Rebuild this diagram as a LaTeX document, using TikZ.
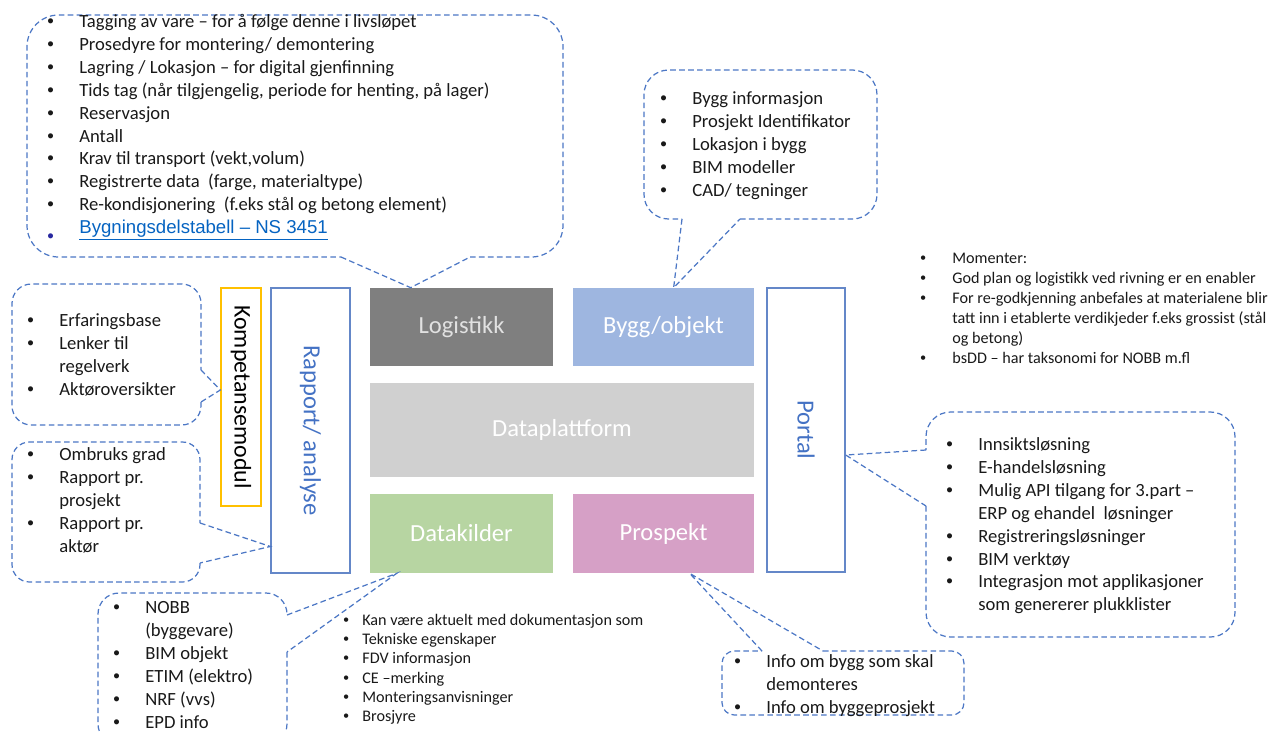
\documentclass[tikz,border=0pt]{standalone}
\usepackage{fontspec}
\setmainfont{Carlito}
\newfontfamily\arialfont{Liberation Sans}
\usepackage{xcolor}
\definecolor{dashblue}{RGB}{76,119,197}
\definecolor{frameblue}{RGB}{100,135,200}
\definecolor{labelblue}{RGB}{68,114,196}
\definecolor{kompyellow}{RGB}{255,192,0}
\definecolor{logigray}{RGB}{127,127,127}
\definecolor{logitext}{RGB}{225,225,225}
\definecolor{byggblue}{RGB}{158,182,224}
\definecolor{datagray}{RGB}{208,208,208}
\definecolor{kildegreen}{RGB}{183,213,162}
\definecolor{prosppink}{RGB}{214,160,198}
\definecolor{linkblue}{RGB}{5,99,193}
\definecolor{linkdot}{RGB}{40,40,160}
\definecolor{bodytext}{RGB}{25,25,25}
\newcommand{\bu}{{\arialfont\textbullet}}
\newcommand{\blist}[2]{\begin{tabular}{@{}p{#1}@{}l@{}}#2\end{tabular}}

\begin{document}
\begin{tikzpicture}[x=0.02cm, y=-0.02cm,
  bubble/.style={draw=dashblue, line width=0.7pt, dash pattern=on 3.2pt off 1.9pt, rounded corners=14pt},
  block/.style={inner sep=0pt, font=\fontsize{14}{16}\selectfont},
  sidebox/.style={draw=frameblue, line width=0.8pt, fill=white, inner sep=0pt, font=\fontsize{14}{16}\selectfont},
  bullets/.style={anchor=north west, inner sep=0pt, text=bodytext, font=\fontsize{10.6}{13}\selectfont},
  notes/.style={anchor=north west, inner sep=0pt, text=bodytext, font=\fontsize{9.2}{11.2}\selectfont}]
\useasboundingbox (0,0) rectangle (1271,731);

% platform blocks
\foreach \n/\x/\y/\w/\h/\c/\f/\t in {
    logi/461.5/327/3.66/1.56/logigray/logitext/Logistikk,
    bygg/663.5/327/3.62/1.56/byggblue/white/{Bygg/objekt},
    data/562/430/7.68/1.88/datagray/white/Dataplattform,
    kilder/461.5/533.5/3.66/1.58/kildegreen/white/Datakilder,
    prosp/663.5/533.5/3.62/1.58/prosppink/white/Prospekt} {
  \node[block, fill=\c, text=\f, minimum width=\w cm, minimum height=\h cm] (\n) at (\x,\y) {\t};
}
\node[sidebox, minimum width=1.56cm, minimum height=5.68cm, text=labelblue] (portal) at (806,430) {\rotatebox{-90}{Portal}};
\node[sidebox, minimum width=1.58cm, minimum height=5.7cm, text=labelblue] (rapport) at (310.5,430.5) {\rotatebox{-90}{Rapport/ analyse}};
\node[sidebox, draw=kompyellow, minimum width=0.8cm, minimum height=4.36cm, text=black, font=\fontsize{13.6}{16}\selectfont] (komp) at (241,397) {\rotatebox{-90}{Kompetansemodul}};

% pointer tips
\coordinate (tipLogi) at ([xshift=0.82cm]logi.north west);
\coordinate (tipBygg) at ([xshift=2.02cm]bygg.north west);
\coordinate (tipKomp) at ([yshift=0.14cm]komp.west);
\coordinate (tipRapp) at ([yshift=-2.32cm]rapport.west);
\coordinate (tipKild) at ([xshift=0.54cm]kilder.south west);
\coordinate (tipProsp) at ([xshift=2.34cm]prosp.south west);
\coordinate (tipPort) at ([yshift=-0.5cm]portal.east);

% callouts
\draw[bubble, rounded corners=18pt] (470,257) -- (563,257) -- (563,15) -- (27,15) -- (27,257) -- (341,257);
\draw[bubble, sharp corners] (341,257) -- (tipLogi) -- (470,257);
\draw[bubble] (740,219) -- (877,219) -- (877,70) -- (644,70) -- (644,219) -- (682,219);
\draw[bubble, sharp corners] (682,219) -- (tipBygg) -- (740,219);
\draw[bubble, rounded corners=11pt] (201,402) -- (201,425) -- (12,425) -- (12,284) -- (201,284) -- (201,370);
\draw[bubble, sharp corners] (201,370) -- (tipKomp) -- (201,402);
\draw[bubble, rounded corners=10pt] (200,563) -- (200,582) -- (12,582) -- (12,442) -- (200,442) -- (200,523);
\draw[bubble, sharp corners] (200,523) -- (tipRapp) -- (200,563);
\draw[bubble, rounded corners=12pt] (287,652) -- (287,745) -- (98,745) -- (98,593) -- (287,593) -- (287,615);
\draw[bubble, sharp corners] (287,615) -- (tipKild) -- (287,652);
\draw[bubble, rounded corners=7pt] (823,651) -- (964,651) -- (964,715) -- (722,715) -- (722,651) -- (762,651);
\draw[bubble, sharp corners] (762,651) -- (tipProsp) -- (823,651);
\draw[bubble] (926,506) -- (926,637) -- (1235,637) -- (1235,412) -- (926,412) -- (926,450);
\draw[bubble, sharp corners] (926,450) -- (tipPort) -- (926,506);

% texts
\node[bullets] (logiList) at (47,11.5) {\blist{0.64cm}{
  \bu & Tagging av vare – for å følge denne i livsløpet\\
  \bu & Prosedyre for montering/ demontering\\
  \bu & Lagring / Lokasjon – for digital gjenfinning\\
  \bu & Tids tag (når tilgjengelig, periode for henting, på lager)\\
  \bu & Reservasjon\\
  \bu & Antall\\
  \bu & Krav til transport (vekt,volum)\\
  \bu & Registrerte data~ (farge, materialtype)\\
  \bu & Re-kondisjonering~ (f.eks stål og betong element)\\
  {\color{linkdot}\bu} & {\arialfont\color{linkblue}\underline{Bygningsdelstabell – NS 3451}}}};
\node[bullets] (byggList) at (660,88.5) {\blist{0.64cm}{
  \bu & Bygg informasjon\\
  \bu & Prosjekt Identifikator\\
  \bu & Lokasjon i bygg\\
  \bu & BIM modeller\\
  \bu & CAD/ tegninger}};
\node[notes, font=\fontsize{9.2}{11.4}\selectfont] (noteList) at (920,248.9) {\blist{0.64cm}{
  \bu & Momenter:\\
  \bu & God plan og logistikk ved rivning er en enabler\\
  \bu & For re-godkjenning anbefales at materialene blir\\
   & tatt inn i etablerte verdikjeder f.eks grossist (stål\\
   & og betong)\\
  \bu & bsDD – har taksonomi for NOBB m.fl}};
\node[bullets] (erfList) at (27,310.5) {\blist{0.64cm}{
  \bu & Erfaringsbase\\
  \bu & Lenker til\\
   & regelverk\\
  \bu & Aktøroversikter}};
\node[bullets] (ombList) at (27,444.5) {\blist{0.64cm}{
  \bu & Ombruks grad\\
  \bu & Rapport pr.\\
   & prosjekt\\
  \bu & Rapport pr.\\
   & aktør}};
\node[bullets] (portList) at (946,434.5) {\blist{0.64cm}{
  \bu & Innsiktsløsning\\
  \bu & E-handelsløsning\\
  \bu & Mulig API tilgang for 3.part –\\
   & ERP og ehandel~ løsninger\\
  \bu & Registreringsløsninger\\
  \bu & BIM verktøy\\
  \bu & Integrasjon mot applikasjoner\\
   & som genererer plukklister}};
\node[bullets] (nobbList) at (113,597.5) {\blist{0.64cm}{
  \bu & NOBB\\
   & (byggevare)\\
  \bu & BIM objekt\\
  \bu & ETIM (elektro)\\
  \bu & NRF (vvs)\\
  \bu & EPD info}};
\node[notes, font=\fontsize{9.2}{11}\selectfont] (kanList) at (343,611.3) {\blist{0.38cm}{
  \bu & Kan være aktuelt med dokumentasjon som\\
  \bu & Tekniske egenskaper\\
  \bu & FDV informasjon\\
  \bu & CE –merking\\
  \bu & Monteringsanvisninger\\
  \bu & Brosjyre}};
\node[bullets] (infoList) at (734,651.5) {\blist{0.64cm}{
  \bu & Info om bygg som skal\\
   & demonteres\\
  \bu & Info om byggeprosjekt}};
\end{tikzpicture}
\end{document}
